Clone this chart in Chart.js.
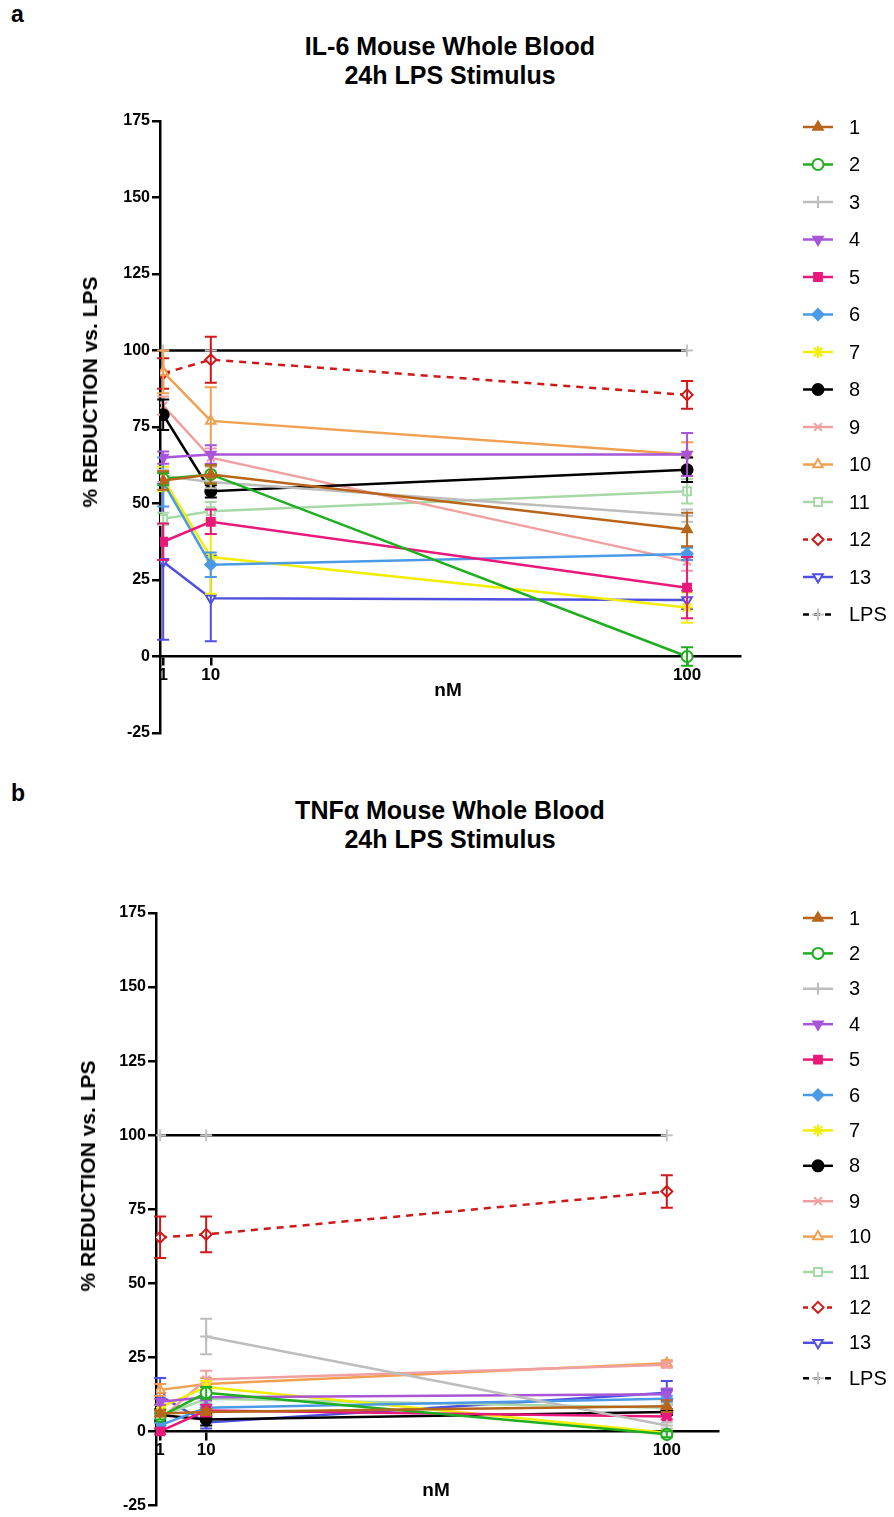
<!DOCTYPE html>
<html>
<head>
<meta charset="utf-8">
<script src="https://cdn.jsdelivr.net/npm/chart.js@4.4.0/dist/chart.umd.min.js"></script>
<style>
body { margin: 0; background: #fff; width: 894px; height: 1517px; position: relative; overflow: hidden; font-family: "Liberation Sans", Arial, sans-serif; color: #000; }
canvas { position: absolute; left: 0; }
.letter { position: absolute; left: 11px; font-weight: bold; font-size: 23px; }
.title { position: absolute; left: 0; width: 900px; text-align: center; font-weight: bold; font-size: 25px; line-height: 29px; }
.xlab { position: absolute; font-weight: bold; font-size: 19px; transform: translateX(-50%); }
.ylab { position: absolute; font-weight: bold; font-size: 21px; white-space: nowrap; transform: translate(-50%, -50%) rotate(-90deg); }
</style>
</head>
<body>
<div class="letter" style="top:1px;">a</div>
<div class="title" style="top:32px;">IL-6 Mouse Whole Blood<br>24h LPS Stimulus</div>
<canvas id="il6Chart" width="894" height="760" style="top:0;"></canvas>
<div class="ylab" style="left:90px; top:392px;">% REDUCTION vs. LPS</div>
<div class="xlab" style="left:448px; top:679px;">nM</div>

<div class="letter" style="top:780px;">b</div>
<div class="title" style="top:796px;">TNFα Mouse Whole Blood<br>24h LPS Stimulus</div>
<canvas id="tnfChart" width="894" height="737" style="top:780px;"></canvas>
<div class="ylab" style="left:88px; top:1176px;">% REDUCTION vs. LPS</div>
<div class="xlab" style="left:436px; top:1479px;">nM</div>

<script>
// doses on the x axis (nM)
const doses = [1, 10, 100];
const yTickStep = 25;
const seriesNames = ['1', '2', '3', '4', '5', '6', '7', '8', '9', '10', '11', '12', '13', 'LPS'];

// IL-6 (% reduction vs LPS), one row per series, columns = doses
const il6Means = [
    [57.5, 59.5, 41.5],
    [58, 59.5, 0],
    [59, 57, 46],
    [65, 66, 66],
    [37.5, 44, 22.5],
    [57, 30, 33.5],
    [58, 32.5, 16],
    [79, 54, 61],
    [82, 65, 31],
    [93, 77, 66],
    [45, 47.5, 54],
    [92.5, 97, 85.5],
    [31, 19, 18.5],
    [100, 100, 100]
];
const il6Errors = [
    [3, 3, 5.5],
    [2, 3, 3],
    [2, 2, 2],
    [2, 3, 7],
    [6, 4, 10],
    [8, 4, 2],
    [4, 12, 5],
    [5, 2, 4],
    [3, 3, 3],
    [7, 11, 4],
    [2, 3, 4],
    [5, 7.5, 4.5],
    [25.5, 14, 3],
    [0, 0, 0]
];

// TNFa
const tnfMeans = [
    [6, 6.5, 8.5],
    [5, 13, -1],
    [null, 32, 2],
    [10, 11.5, 12.5],
    [0, 7, 5],
    [2, 8, 11],
    [8, 15, -0.5],
    [5.5, 4, 6.5],
    [4, 17.5, 22.5],
    [14, 16, 23],
    [5, 11, 8],
    [65.5, 66.5, 81],
    [12, 3, 13],
    [100, 100, 100]
];
const tnfErrors = [
    [1, 1, 2],
    [1, 2, 1],
    [0, 6, 1],
    [1, 1, 2],
    [1, 2, 1],
    [1, 1, 1],
    [1, 2, 1],
    [2, 2, 1],
    [1, 3, 1],
    [2, 2, 1],
    [1, 1, 1],
    [7, 6, 5.5],
    [6, 2, 4],
    [0, 0, 0]
];

// marker looks per series
const seriesColors = ['#b8651b', '#1fae1f', '#bdbdbd', '#a855d8', '#e8197a', '#4a9ae8', '#f2ee00',
    '#000000', '#f0a0a0', '#f0a050', '#a8d8a8', '#d01818', '#5050e0', '#000000'];
const pointStyles = ['triangle', 'circle', 'cross', 'triangle', 'rect', 'rectRot', 'star',
    'circle', 'crossRot', 'triangle', 'rect', 'rectRot', 'triangle', 'cross'];
const pointRotations = [0, 0, 0, 180, 0, 0, 0, 0, 0, 0, 0, 0, 180, 0];
const pointFilled = [true, false, true, true, true, true, true, true, true, false, false, false, false, true];

const FONT = '"Liberation Sans", Arial, sans-serif';

function buildDatasets(means, errors) {
    return seriesNames.map((name, i) => {
        const col = seriesColors[i];
        const isLps = name === 'LPS';
        const markerCol = isLps ? '#c4c4c4' : col;
        return {
            label: name,
            data: doses.map((d, j) => ({ x: d, y: means[i][j] })),
            errors: errors[i],
            borderColor: col,
            backgroundColor: col,
            borderWidth: 2.5,
            borderDash: name === '12' ? [7, 6] : [],
            pointStyle: pointStyles[i],
            pointRotation: pointRotations[i],
            pointRadius: pointStyles[i] === 'cross' || pointStyles[i] === 'star' ? 6 : 5.5,
            pointBorderWidth: 2,
            pointBorderColor: markerCol,
            pointBackgroundColor: pointFilled[i] ? markerCol : '#ffffff',
            tension: 0
        };
    });
}

// vertical SEM bars, drawn through the scales
const errorBars = {
    id: 'errorBars',
    afterDatasetDraw(chart, args) {
        const ds = chart.data.datasets[args.index];
        if (!ds.errors) return;
        const { ctx, scales: { x, y } } = chart;
        ctx.save();
        ctx.strokeStyle = ds.pointBorderColor;
        ctx.lineWidth = 2;
        ds.data.forEach((p, j) => {
            const e = ds.errors[j];
            if (!e || p.y === null) return;
            const px = x.getPixelForValue(p.x);
            const top = y.getPixelForValue(p.y + e);
            const bot = y.getPixelForValue(p.y - e);
            ctx.beginPath();
            ctx.moveTo(px, top); ctx.lineTo(px, bot);
            ctx.moveTo(px - 6, top); ctx.lineTo(px + 6, top);
            ctx.moveTo(px - 6, bot); ctx.lineTo(px + 6, bot);
            ctx.stroke();
        });
        ctx.restore();
    }
};

// legend on the right: short line with the marker in the middle, then the name
const sideLegend = {
    id: 'sideLegend',
    afterDraw(chart, args, opts) {
        const ctx = chart.ctx;
        ctx.save();
        chart.data.datasets.forEach((ds, i) => {
            const cy = opts.top + i * opts.gap;
            ctx.strokeStyle = ds.borderColor;
            ctx.lineWidth = 2.5;
            ctx.setLineDash(ds.label === 'LPS' ? [6, 5] : (ds.borderDash.length ? [5, 7] : []));
            ctx.beginPath();
            ctx.moveTo(opts.left, cy);
            ctx.lineTo(opts.left + 30, cy);
            ctx.stroke();
            ctx.setLineDash([]);
            ctx.fillStyle = ds.pointBackgroundColor;
            ctx.strokeStyle = ds.pointBorderColor;
            ctx.lineWidth = 2;
            Chart.helpers.drawPoint(ctx, {
                pointStyle: ds.pointStyle, rotation: ds.pointRotation,
                radius: ds.pointRadius, borderWidth: 2
            }, opts.left + 15, cy);
            ctx.fillStyle = '#000';
            ctx.font = '20px ' + FONT;
            ctx.textBaseline = 'middle';
            ctx.textAlign = 'left';
            ctx.fillText(ds.label, opts.left + 46, cy + 1);
        });
        ctx.restore();
    }
};

function makeChart(id, means, errors, cfg) {
    const axisLine = { color: '#000', width: 2.5 };
    const gridTicks = { drawOnChartArea: false, color: '#000', lineWidth: 2.5, tickLength: 8, tickWidth: 2.5 };
    return new Chart(document.getElementById(id), {
        type: 'line',
        data: { datasets: buildDatasets(means, errors) },
        plugins: [errorBars, sideLegend],
        options: {
            responsive: false,
            animation: false,
            layout: { autoPadding: false, padding: cfg.padding },
            plugins: {
                legend: { display: false },
                tooltip: { enabled: false },
                sideLegend: cfg.legend
            },
            scales: {
                x: {
                    type: 'linear',
                    position: { y: 0 },
                    min: cfg.xMin,
                    max: 110,
                    afterBuildTicks: s => { s.ticks = doses.map(v => ({ value: v })); },
                    grid: gridTicks,
                    border: axisLine,
                    ticks: { color: '#000', font: { family: FONT, weight: 'bold', size: 17 }, padding: 1, maxRotation: 0, autoSkip: false }
                },
                y: {
                    min: -25,
                    max: 175,
                    afterFit: s => { s.width = cfg.yWidth; },
                    grid: gridTicks,
                    border: axisLine,
                    ticks: { stepSize: yTickStep, color: '#000', font: { family: FONT, weight: 'bold', size: 16 }, padding: 2 }
                }
            }
        }
    });
}

makeChart('il6Chart', il6Means, il6Errors, {
    padding: { left: 77, top: 121, right: 154, bottom: 27 },
    yWidth: 83,
    xMin: 0.4,
    legend: { left: 803, top: 127, gap: 37.5 }
});

makeChart('tnfChart', tnfMeans, tnfErrors, {
    padding: { left: 75, top: 133, right: 176, bottom: 10 },
    yWidth: 81,
    xMin: 0.2,
    legend: { left: 803, top: 138, gap: 35.4 }
});
</script>
</body>
</html>
